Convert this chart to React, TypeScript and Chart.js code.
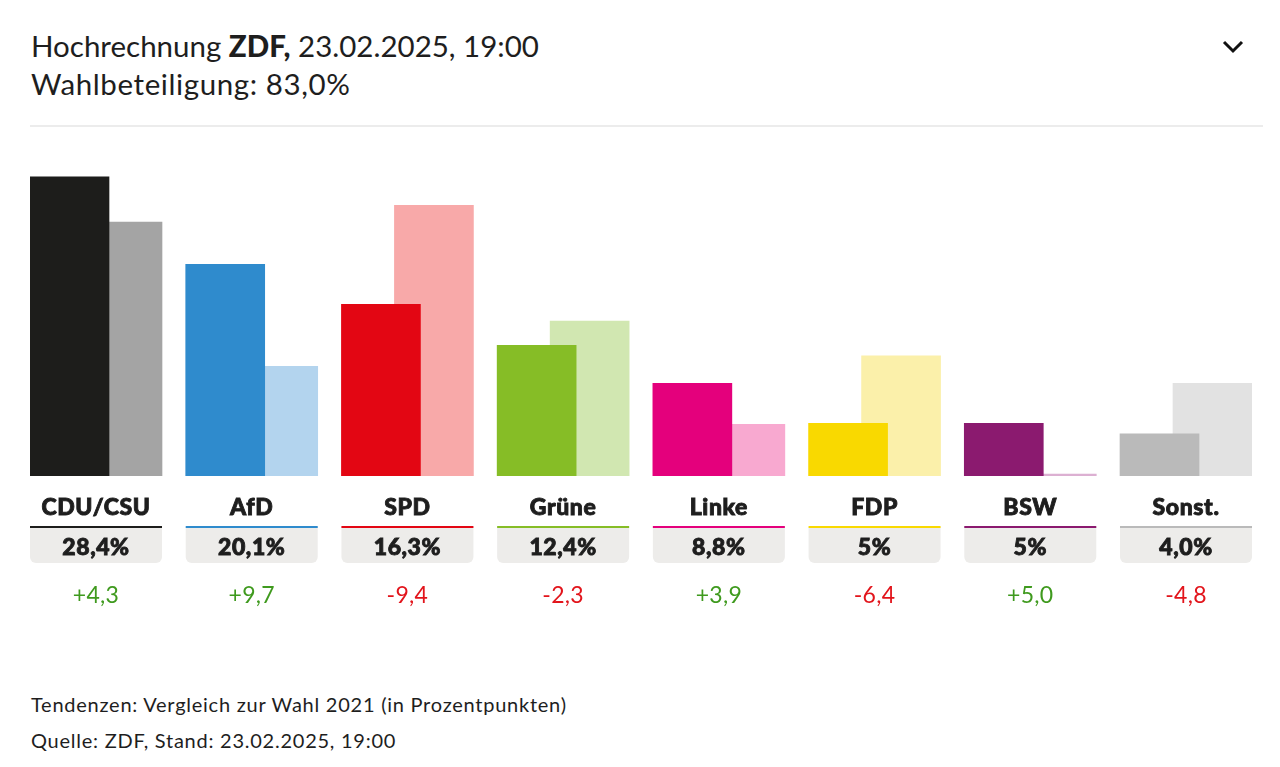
import React, { useEffect, useRef } from 'react';
import { Chart, registerables } from 'chart.js';

Chart.register(...registerables);

const parties = ['CDU/CSU', 'AfD', 'SPD', 'Grüne', 'Linke', 'FDP', 'BSW', 'Sonst.'];
const results2025 = [28.4, 20.1, 16.3, 12.4, 8.8, 5.0, 5.0, 4.0];
const results2021 = [24.1, 10.4, 25.7, 14.7, 4.9, 11.4, 0, 8.8];
const shareLabels = ['28,4%', '20,1%', '16,3%', '12,4%', '8,8%', '5%', '5%', '4,0%'];
const colors2025 = ['#1d1d1b', '#2f8bcd', '#e30613', '#86bd26', '#e4007c', '#f9d900', '#8b1a6f', '#bababa'];
const colors2021 = ['#a4a4a4', '#b3d4ee', '#f8a9a9', '#d1e7b1', '#f8a9d0', '#fbf0aa', '#dcb0d2', '#e2e2e2'];
const lineColors = ['#1d1d1b', '#2f8bcd', '#e30613', '#86bd26', '#e4007c', '#f9d900', '#8b1a6f', '#bababa'];

const FONT = 'Lato, "Open Sans", sans-serif';
const BAR_W = 79;
const PREV_SHIFT = 53;
const GROUP_W = BAR_W + PREV_SHIFT;
const AREA_W = 1222;
const STEP = (AREA_W - GROUP_W) / (parties.length - 1);
const X_MAX = parties.length - 1 + GROUP_W / STEP;

const formatDiff = (d: number) => {
  const r = Math.round(d * 10) / 10;
  const s = Math.abs(r).toFixed(1).replace('.', ',');
  return (r >= 0 ? '+' : '-') + s;
};

const heavyText = (ctx: any, text: string, x: number, y: number) => {
  ctx.fillText(text, x, y);
  ctx.lineWidth = 0.9;
  ctx.strokeStyle = ctx.fillStyle;
  ctx.strokeText(text, x, y);
};

const labelsPlugin = {
  id: 'partyLabels',
  afterDraw(chart: any) {
    const ctx = chart.ctx;
    const xs = chart.scales.x;
    const base = chart.chartArea.bottom;
    ctx.save();
    parties.forEach((p, i) => {
      const left = xs.getPixelForValue(i);
      const w = GROUP_W;
      const cx = left + w / 2;
      ctx.textAlign = 'center';
      ctx.textBaseline = 'alphabetic';
      // party name
      ctx.fillStyle = '#1e1e1e';
      ctx.font = `900 23px ${FONT}`;
      ctx.letterSpacing = '0.6px';
      heavyText(ctx, p, cx, base + 39);
      // grey box
      ctx.fillStyle = '#edecea';
      ctx.beginPath();
      ctx.roundRect(left, base + 51, w, 36, [0, 0, 6, 6]);
      ctx.fill();
      // coloured line
      ctx.fillStyle = lineColors[i];
      ctx.fillRect(left, base + 50, w, 2);
      // share
      ctx.fillStyle = '#1e1e1e';
      ctx.font = `900 23px ${FONT}`;
      heavyText(ctx, shareLabels[i], cx, base + 79);
      // diff
      const d = results2025[i] - results2021[i];
      ctx.fillStyle = d >= 0 ? '#3f9a1e' : '#e2141b';
      ctx.font = `400 23px ${FONT}`;
      ctx.letterSpacing = '0.3px';
      ctx.fillText(formatDiff(d), cx, base + 127);
    });
    ctx.restore();
  },
};

export default function App() {
  const ref = useRef<HTMLCanvasElement>(null);
  useEffect(() => {
    document.body.style.margin = '0';
    if (!ref.current) return;
    const chart = new Chart(ref.current, {
      type: 'bar',
      data: {
        datasets: [
          {
            label: '2025',
            data: results2025.map((v, i) => ({ x: i + BAR_W / 2 / STEP, y: v })),
            backgroundColor: colors2025,
            barThickness: BAR_W,
            grouped: false,
            borderWidth: 0,
          },
          {
            label: '2021',
            data: results2021.map((v, i) => ({ x: i + (PREV_SHIFT + BAR_W / 2) / STEP, y: v })),
            backgroundColor: colors2021,
            barThickness: BAR_W,
            grouped: false,
            minBarLength: 2,
            borderWidth: 0,
          },
        ],
      },
      options: {
        animation: false,
        responsive: false,
        maintainAspectRatio: false,
        layout: { padding: { left: 30, right: 28, top: 20, bottom: 164 } },
        plugins: { legend: { display: false }, tooltip: { enabled: false } },
        scales: {
          x: { type: 'linear', min: 0, max: X_MAX, offset: false, display: false, grid: { display: false } },
          y: { min: 0, max: 30, display: false, grid: { display: false } },
        },
      },
      plugins: [labelsPlugin],
    });
    return () => chart.destroy();
  }, []);

  return (
    <div style={{ position: 'relative', width: 1280, height: 767, background: '#fff', fontFamily: FONT, color: '#1e1e1e' }}>
      <div style={{ position: 'absolute', left: 31, top: 27, fontSize: 29.5, lineHeight: '38px', whiteSpace: 'nowrap' }}>
        <div>
          Hochrechnung <span style={{ fontWeight: 900 }}>ZDF,</span> 23.02.2025, 19:00
        </div>
        <div style={{ letterSpacing: '0.6px' }}>Wahlbeteiligung: 83,0%</div>
      </div>
      <svg style={{ position: 'absolute', left: 1220, top: 36 }} width="26" height="22" viewBox="0 0 26 22">
        <polyline points="4,6 13,15 22,6" fill="none" stroke="#111" strokeWidth="3" />
      </svg>
      <div style={{ position: 'absolute', left: 30, top: 125, width: 1233, height: 2, background: '#ececec' }} />
      <canvas ref={ref} width={1280} height={500} style={{ position: 'absolute', left: 0, top: 140, width: 1280, height: 500 }} />
      <div style={{ position: 'absolute', left: 31, top: 686, fontSize: 20, lineHeight: '36px', whiteSpace: 'nowrap', letterSpacing: '0.75px' }}>
        <div>Tendenzen: Vergleich zur Wahl 2021 (in Prozentpunkten)</div>
        <div>Quelle: ZDF, Stand: 23.02.2025, 19:00</div>
      </div>
    </div>
  );
}
